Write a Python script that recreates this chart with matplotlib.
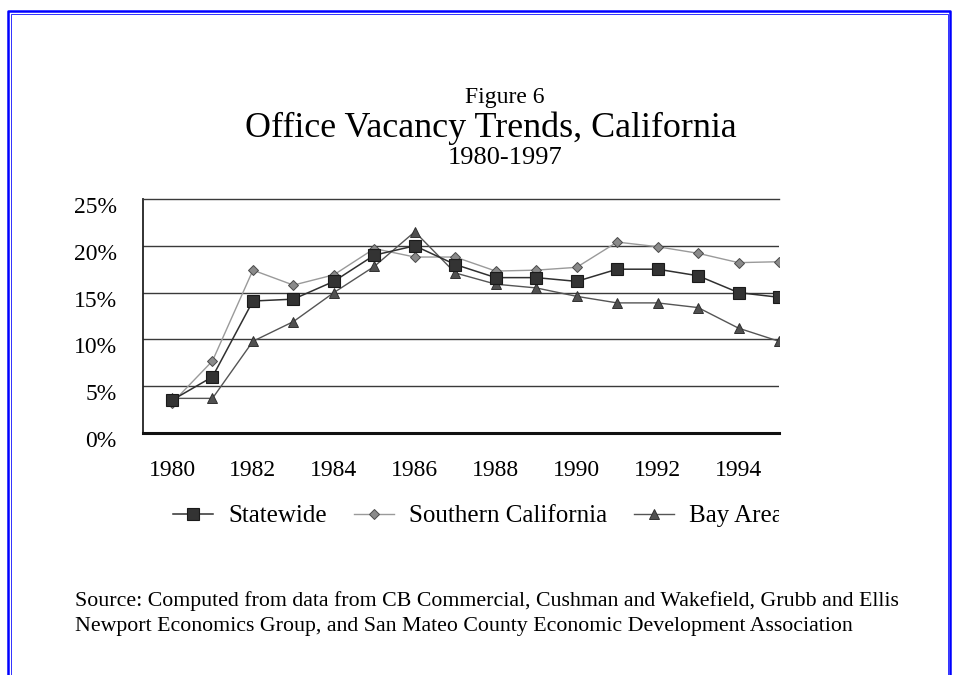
import matplotlib
matplotlib.use("Agg")
import matplotlib.pyplot as plt
from matplotlib.lines import Line2D
from matplotlib.patches import Rectangle
import matplotlib.transforms as mtransforms

plt.rcParams['font.family'] = ['Liberation Serif', 'DejaVu Serif']

years = list(range(1980, 1996))
statewide = [3.5, 6.0, 14.1, 14.3, 16.2, 19.0, 20.0, 18.0, 16.6, 16.6, 16.2, 17.5, 17.5, 16.8, 15.0, 14.5]
southern_ca = [3.2, 7.7, 17.4, 15.8, 16.9, 19.7, 18.8, 18.8, 17.3, 17.4, 17.7, 20.4, 19.9, 19.2, 18.2, 18.3]
bay_area = [3.7, 3.7, 9.8, 11.9, 15.0, 17.8, 21.5, 17.1, 15.9, 15.5, 14.6, 13.9, 13.9, 13.4, 11.2, 9.8]
series_names = ["Statewide", "Southern California", "Bay Area"]
xtick_years = list(range(1980, 1996, 2))
ytick_vals = [0, 5, 10, 15, 20, 25]
ytick_labels = ["0%", "5%", "10%", "15%", "20%", "25%"]

W, H = 959, 675
fig = plt.figure(figsize=(W / 100, H / 100), dpi=100)
fig.patch.set_facecolor('white')

def fx(px):
    return px / W

def fy(py):
    return 1 - py / H

ax = fig.add_axes([fx(143), fy(433), fx(779) - fx(143), fy(199) - fy(433)])
ax.set_facecolor('white')

ax.plot(years, southern_ca, color='#9a9a9a', lw=1.0, marker='D', ms=4.6,
        mfc='#8a8a8a', mec='#4a4a4a', mew=0.7, label=series_names[1], zorder=3)
ax.plot(years, bay_area, color='#555555', lw=1.0, marker='^', ms=7,
        mfc='#505050', mec='#303030', mew=0.7, label=series_names[2], zorder=3)
ax.plot(years, statewide, color='#303030', lw=1.1, marker='s', ms=9,
        mfc='#333333', mec='#1a1a1a', mew=0.8, label=series_names[0], zorder=4)

ax.set_ylim(0, 25)
ax.set_xlim(1980 - 29 / 40.47, 1995)
ax.set_yticks(ytick_vals)
ax.set_yticklabels(ytick_labels)
ax.set_xticks(xtick_years)
ax.set_xticklabels([str(y) for y in xtick_years])
ax.tick_params(axis='both', length=0, labelsize=17)
ax.tick_params(axis='y', pad=19)
ax.tick_params(axis='x', pad=19.5)

for v in ytick_vals[1:-1]:
    ax.axhline(v, color='#3a3a3a', lw=1.0, zorder=1)

ax.spines['right'].set_visible(False)
ax.spines['top'].set_color('#3a3a3a')
ax.spines['top'].set_linewidth(1.0)
ax.spines['left'].set_color('#222222')
ax.spines['left'].set_linewidth(1.3)
ax.spines['bottom'].set_color('#111111')
ax.spines['bottom'].set_linewidth(2.2)

# shift y tick labels slightly down
off = mtransforms.ScaledTranslation(0, -6 / 100, fig.dpi_scale_trans)
for lab in ax.get_yticklabels():
    lab.set_transform(lab.get_transform() + off)

# legend
handles, labels = ax.get_legend_handles_labels()
order = [labels.index(n) for n in series_names]
leg = fig.legend([handles[i] for i in order], [labels[i] for i in order],
                 loc='center left', bbox_to_anchor=(fx(173), fy(516)),
                 ncol=3, frameon=False, fontsize=18, borderpad=0, borderaxespad=0,
                 handlelength=1.6, handletextpad=0.6, columnspacing=1.08)

# crop legend at the chart's right edge
fig.add_artist(Rectangle((fx(779), fy(548)), fx(945) - fx(779), fy(480) - fy(548),
                         transform=fig.transFigure, facecolor='white', edgecolor='none', zorder=10))

# titles
fig.text(fx(505), fy(103), "Figure 6", ha='center', va='baseline', fontsize=17)
fig.text(fx(491), fy(137), "Office Vacancy Trends, California", ha='center', va='baseline', fontsize=25.9)
fig.text(fx(505), fy(164), "1980-1997", ha='center', va='baseline', fontsize=19)

# source
fig.text(fx(75), fy(606), "Source: Computed from data from CB Commercial, Cushman and Wakefield, Grubb and Ellis",
         ha='left', va='baseline', fontsize=15.75)
fig.text(fx(75), fy(631), "Newport Economics Group, and San Mateo County Economic Development Association",
         ha='left', va='baseline', fontsize=15.75)

# blue border (open at bottom)
for lw, inset, col in [(1.8, 0, '#0000ff'), (0.7, 2.5, '#3030ff')]:
    x0, x1, yt = fx(8 + inset), fx(950 - inset), fy(11 + inset)
    fig.add_artist(Line2D([x0, x0, x1, x1], [0, yt, yt, 0], transform=fig.transFigure,
                          color=col, lw=lw, zorder=20))

fig.savefig("out.png", dpi=100, facecolor='white')
